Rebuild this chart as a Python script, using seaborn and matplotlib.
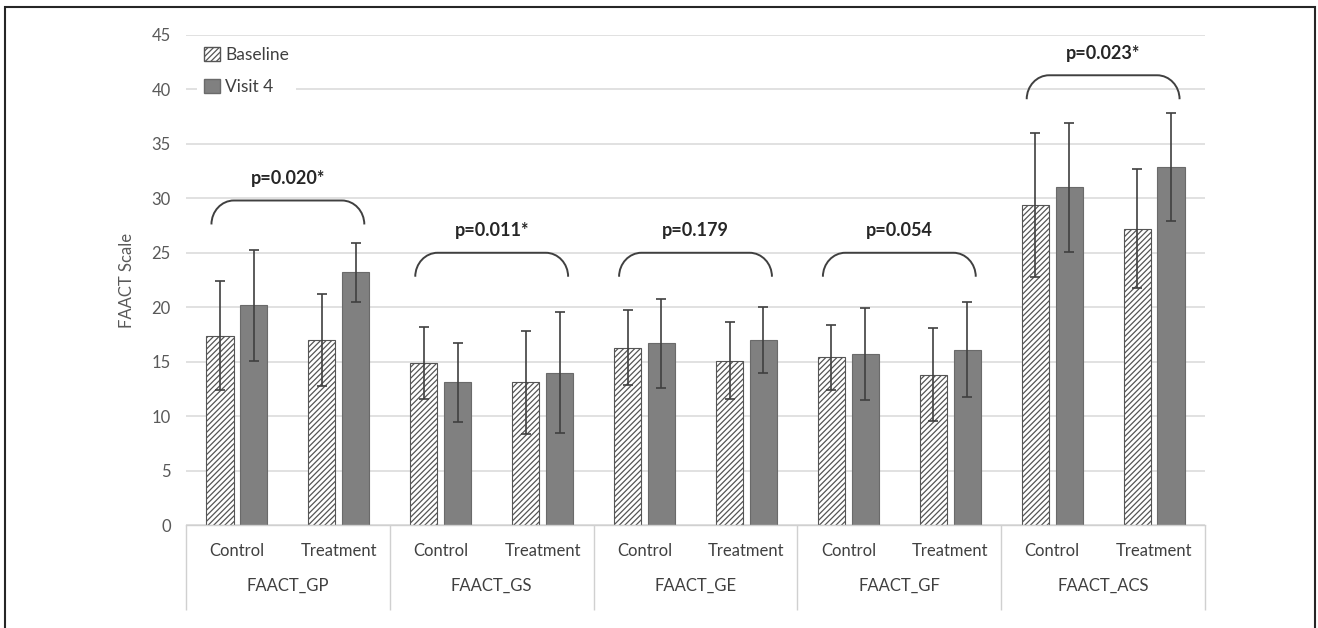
import numpy as np
import matplotlib
matplotlib.use("Agg")
import matplotlib.pyplot as plt
from matplotlib.path import Path
from matplotlib.patches import PathPatch, Patch, Rectangle
import pandas as pd
import seaborn as sns

# values (mean, sd) per scale and arm
scales = ["FAACT_GP", "FAACT_GS", "FAACT_GE", "FAACT_GF", "FAACT_ACS"]
arms = ["Control", "Treatment"]
baseline_mean = [17.4, 17.0, 14.85, 13.1, 16.3, 15.1, 15.4, 13.8, 29.4, 27.2]
baseline_sd = [5.0, 4.2, 3.3, 4.75, 3.45, 3.5, 3.0, 4.25, 6.6, 5.45]
visit4_mean = [20.2, 23.2, 13.1, 14.0, 16.7, 17.0, 15.7, 16.1, 31.0, 32.9]
visit4_sd = [5.1, 2.7, 3.6, 5.55, 4.1, 3.05, 4.2, 4.35, 5.9, 4.95]
p_labels = ["p=0.020*", "p=0.011*", "p=0.179", "p=0.054", "p=0.023*"]
bracket_top = [29.8, 25.0, 25.0, 25.0, 41.3]

sns.set_style("white")
plt.rcParams['font.family'] = ['Lato', 'DejaVu Sans']
plt.rcParams['hatch.linewidth'] = 0.9

# long table for seaborn
keys = [s + "|" + a for s in scales for a in arms]
df = pd.DataFrame({
    "key": keys * 2,
    "visit": ["Baseline"] * 10 + ["Visit 4"] * 10,
    "mean": baseline_mean + visit4_mean,
    "sd": baseline_sd + visit4_sd,
})

fig = plt.figure(figsize=(13.18, 6.28), dpi=100)
ax = fig.add_axes([0.1411, 0.1640, 0.7732, 0.7803])

sns.barplot(data=df, x="key", y="mean", hue="visit", order=keys,
            palette={"Baseline": "white", "Visit 4": "#808080"},
            width=0.664, gap=0.2, errorbar=None, legend=False, ax=ax)

# style the bars and add error bars at the bar centres
for cont, vis in zip(ax.containers, ["Baseline", "Visit 4"]):
    sub = df[df.visit == vis].set_index("key")
    for p in cont:
        xc = p.get_x() + p.get_width() / 2
        k = keys[int(round(xc))]
        if vis == "Baseline":
            p.set_facecolor("white")
            p.set_hatch("//////")
            p.set_edgecolor("#555555")
        else:
            p.set_edgecolor("#6a6a6a")
        p.set_linewidth(0.8)
        ax.errorbar(xc, p.get_height(), yerr=sub.loc[k, "sd"], fmt="none",
                    ecolor="#404040", elinewidth=1.2, capsize=3.5, capthick=1.2,
                    zorder=4)

ax.set_ylim(0, 45)
ax.set_xlim(-0.5, 9.5)
ax.set_yticks(np.arange(0, 46, 5))
ax.yaxis.grid(True, color="#d9d9d9", linewidth=1.1)
ax.set_axisbelow(True)
ax.tick_params(axis="y", length=0, pad=11, labelsize=12, labelcolor="#595959")
ax.set_ylabel("FAACT Scale", fontsize=12, color="#595959", labelpad=12)
ax.set_xlabel("")

# two-level category axis
ax.set_xticks(range(10))
ax.set_xticklabels(arms * 5)
ax.tick_params(axis="x", which="major", bottom=True, length=0, pad=13,
               labelsize=12, labelcolor="#404040")
ax.set_xticks(np.arange(-0.5, 10, 2), minor=True)
ax.tick_params(axis="x", which="minor", bottom=True, length=61, width=1,
               color="#d0d0d0", direction="out")
for i, s in enumerate(scales):
    ax.text(2 * i + 0.5, -0.124, s, transform=ax.get_xaxis_transform(),
            ha="center", va="center", fontsize=12, color="#404040")

for side in ["top", "left", "right"]:
    ax.spines[side].set_visible(False)
ax.spines["bottom"].set_color("#d0d0d0")
ax.spines["bottom"].set_linewidth(1)

# significance brackets (rounded corners, quarter ellipses)
k4 = 0.552
for i, (lab, yt) in enumerate(zip(p_labels, bracket_top)):
    x0, x1 = 2 * i - 0.25, 2 * i + 1.25
    yb = yt - 2.2
    rx = 0.22
    dy = yt - yb
    verts = [(x0, yb),
             (x0, yb + k4 * dy), (x0 + rx * (1 - k4), yt), (x0 + rx, yt),
             (x1 - rx, yt),
             (x1 - rx * (1 - k4), yt), (x1, yb + k4 * dy), (x1, yb)]
    codes = [Path.MOVETO,
             Path.CURVE4, Path.CURVE4, Path.CURVE4,
             Path.LINETO,
             Path.CURVE4, Path.CURVE4, Path.CURVE4]
    ax.add_patch(PathPatch(Path(verts, codes), fill=False, edgecolor="#404040",
                           linewidth=1.4, zorder=5))
    ax.text(2 * i + 0.5, yt + 2.0, lab, ha="center", va="center", fontsize=13,
            fontweight="bold", color="#262626")

handles = [Patch(facecolor="white", edgecolor="#555555", hatch="//////", label="Baseline"),
           Patch(facecolor="#808080", edgecolor="#6a6a6a", label="Visit 4")]
leg = ax.legend(handles=handles, loc="upper left", bbox_to_anchor=(0.011, 0.99),
                borderaxespad=0, frameon=True, fancybox=False, framealpha=1,
                handlelength=0.9, handleheight=0.9, handletextpad=0.3,
                labelspacing=0.9, fontsize=12.5, borderpad=0.4)
leg.get_frame().set_edgecolor("none")
leg.get_frame().set_facecolor("white")
for t in leg.get_texts():
    t.set_color("#404040")

# outer chart border
fig.add_artist(Rectangle((5 / 1318, -0.02), 1310 / 1318, 1 - 7 / 628 + 0.02,
                         transform=fig.transFigure, fill=False,
                         edgecolor="#262626", linewidth=1.5))

fig.savefig("out.png", dpi=100)
